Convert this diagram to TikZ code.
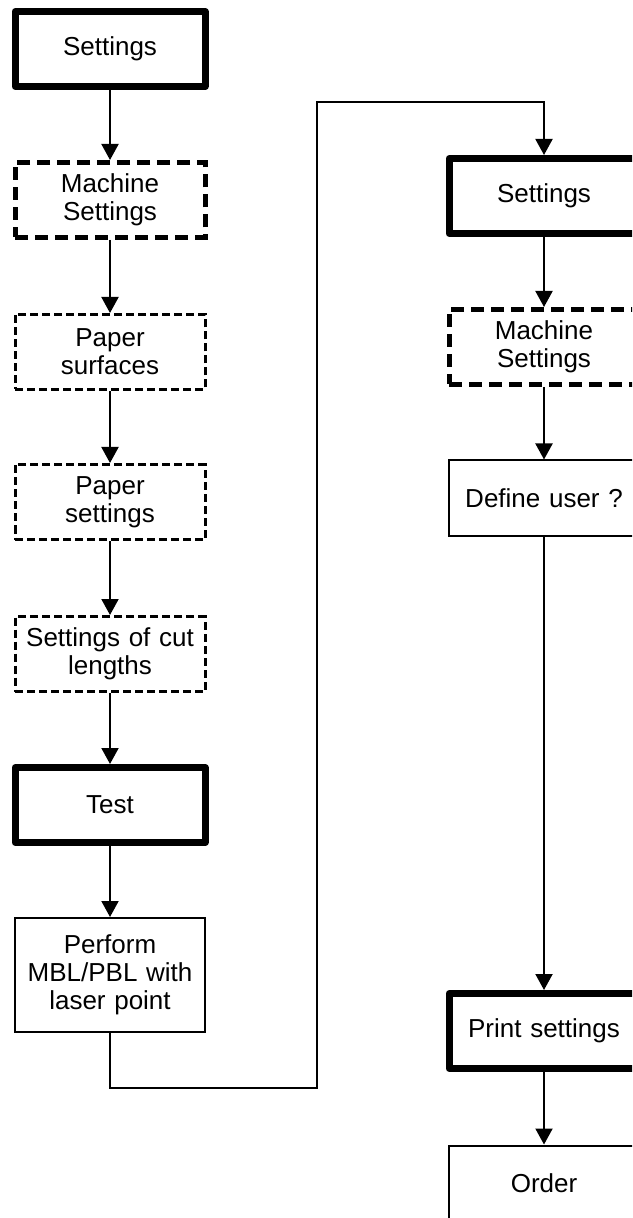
\documentclass[tikz,border=0pt]{standalone}
\usepackage{fontspec}
\setmainfont{Liberation Sans}
\usetikzlibrary{arrows.meta,positioning}

\begin{document}
\begin{tikzpicture}[x=0.5pt,y=-0.5pt,font=\fontsize{13}{14}\selectfont,
    box/.style={draw,minimum width=95pt,minimum height=37.5pt,
                text width=90pt,align=center,inner sep=1pt},
    major/.style={box,line width=3.5pt,line join=round},
    sub/.style={box,line width=2.5pt,dash pattern=on 6.5pt off 3.5pt},
    minor/.style={box,line width=1.5pt,dash pattern=on 4pt off 2pt},
    task/.style={box,line width=1pt},
    ar/.style={-{Triangle[length=8pt,width=8.5pt]},line width=1pt}]
    \useasboundingbox (0,0) rectangle (632,1218);
    \clip (0,0) rectangle (632,1218);
    % left column
    \node[major] (setL)  at (110,49)  {Settings};
    \node[sub]   (machL) at (110,200) {Machine\\Settings};
    \node[minor] (surf)  at (110,352) {Paper\\surfaces};
    \node[minor] (paper) at (110,502) {Paper\\settings};
    \node[minor] (cut)   at (110,654) {Settings of cut\\lengths};
    \node[major] (test)  at (110,805) {Test};
    \node[task,minimum height=57pt] (perf) at (110,975)
      {Perform\\MBL/PBL with\\laser point};
    % right column
    \node[major] (setR)  at (544,196)  {Settings};
    \node[sub]   (machR) at (544,347)  {Machine\\Settings};
    \node[task]  (user)  at (544,498)  {Define user ?};
    \node[major] (print) at (544,1031) {Print settings};
    \node[task]  (order) at (544,1183) {Order};
    % connectors
    \draw[ar] (setL) -- (machL);
    \draw[ar] (machL) -- (surf);
    \draw[ar] (surf) -- (paper);
    \draw[ar] (paper) -- (cut);
    \draw[ar] (cut) -- (test);
    \draw[ar] (test) -- (perf);
    \coordinate (turnA) at (317,1088);
    \coordinate (turnB) at (317,102);
    \draw[ar] (perf.south) |- (turnA) -- (turnB) -| (setR.north);
    \draw[ar] (setR) -- (machR);
    \draw[ar] (machR) -- (user);
    \draw[ar] (user) -- (print);
    \draw[ar] (print) -- (order);
\end{tikzpicture}
\end{document}
